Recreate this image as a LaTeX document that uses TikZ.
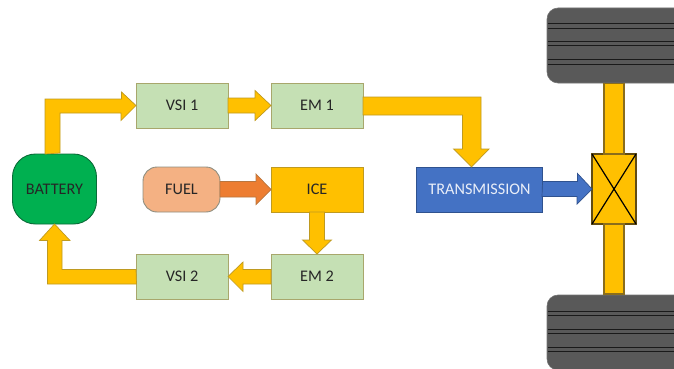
\documentclass[tikz,border=0pt]{standalone}
\usepackage{fontspec}
\setmainfont{Carlito}
\definecolor{boxgreen}{HTML}{C5E0B4}
\definecolor{boxedge}{HTML}{A8A76C}
\definecolor{amber}{HTML}{FFC000}
\definecolor{amberedge}{HTML}{BF9A20}
\definecolor{axleedge}{HTML}{8A6D1C}
\definecolor{batt}{HTML}{00B050}
\definecolor{battedge}{HTML}{0A6B38}
\definecolor{fuelc}{HTML}{F4B183}
\definecolor{fueledge}{HTML}{8E8E80}
\definecolor{orangec}{HTML}{ED7D31}
\definecolor{orangeedge}{HTML}{B9763F}
\definecolor{bluec}{HTML}{4472C4}
\definecolor{blueedge}{HTML}{2F528F}
\definecolor{tyre}{HTML}{595959}
\definecolor{tread}{HTML}{1A1A1A}
\tikzset{
  blk/.style={draw,line width=0.9pt,inner sep=0pt,outer sep=0pt,align=center,font=\fontsize{16.2}{18}\selectfont,text=black!85},
  vsi/.style={blk,fill=boxgreen,draw=boxedge,minimum width=92pt,minimum height=45pt},
  engine/.style={blk,fill=amber,draw=amberedge,minimum width=92pt,minimum height=45pt},
  fuelbox/.style={blk,fill=fuelc,draw=fueledge,rounded corners=14pt,minimum width=77pt,minimum height=45pt},
  battbox/.style={blk,fill=batt,draw=battedge,rounded corners=23pt,minimum width=84pt,minimum height=70pt},
  transbox/.style={blk,fill=bluec,draw=blueedge,text=white!88!bluec,minimum width=126pt,minimum height=45pt},
  gearbox/.style={blk,fill=amber,draw=axleedge!70!black,line width=1.2pt,minimum width=44pt,minimum height=70pt},
  tyrebox/.style={draw=black!55,fill=tyre,line width=0.6pt,rounded corners=11pt,inner sep=0pt,outer sep=0pt,minimum width=160pt,minimum height=75pt},
  arrowy/.style={fill=amber,draw=amberedge,line width=0.7pt,line join=miter},
  arrowo/.style={fill=orangec,draw=orangeedge,line width=0.7pt},
  arrowb/.style={fill=bluec,draw=blueedge,line width=0.7pt},
  axle/.style={fill=amber,draw=axleedge,line width=1.2pt},
  treadline/.style={draw=tread,line width=1pt},
}
\begin{document}
\begin{tikzpicture}[x=1pt,y=-1pt]
\useasboundingbox (0,0) rectangle (674,369);
\clip (0,0) rectangle (674,369);
% wheels
\node[tyrebox] (tyreT) at (627,45.5) {};
\node[tyrebox] (tyreB) at (627,332.5) {};
\foreach \yy in {24,28.7,42,46,60,64.7,311,315,329,333,347.7,351.5}
  \draw[treadline] (547.5,\yy) -- (674,\yy);
% boxes
\node[vsi] (vsia) at (182,105.5) {VSI 1};
\node[vsi] (ema) at (317,105.5) {EM 1};
\node[engine] (ice) at (317,189.5) {ICE};
\node[vsi] (emb) at (317,276.5) {EM 2};
\node[vsi] (vsib) at (182,276.5) {VSI 2};
\node[fuelbox] (fuel) at (181.5,189.5) {FUEL};
\node[battbox] (battery) at (54.5,189) {BATTERY};
\node[transbox] (trans) at (479.5,189.5) {TRANSMISSION};
\node[gearbox] (gear) at (614,189) {};
% axle
\draw[axle] (gear.north) ++(-10,0) rectangle ++(20,-70.5);
\draw[axle] (gear.south) ++(-10,0) rectangle ++(20,70);
% gear cross
\draw[line width=1.2pt,black] (gear.north west) -- (gear.south east) (gear.north east) -- (gear.south west);
% block arrows
\draw[arrowy] (battery.north) ++(-9.5,0) -- ++(0,-55) -- ++(76.5,0) -- ++(0,-7) -- (vsia.west) -- ++(-15,15) -- ++(0,-7.5) -- ++(-61,0) -- ++(0,40) -- cycle;
\draw[arrowy] (vsia.east) ++(0,-7.5) -- ++(27,0) -- ++(0,-7.5) -- (ema.west) -- ++(-16,15) -- ++(0,-7.5) -- ++(-27,0) -- cycle;
\draw[arrowo] (fuel.east) ++(0,-8) -- ++(36,0) -- ++(0,-7.5) -- (ice.west) -- ++(-15,15) -- ++(0,-7.5) -- ++(-36,0) -- cycle;
\draw[arrowy] (ice.south) ++(-7.5,0) -- ++(0,28) -- ++(-7,0) -- (emb.north) -- ++(14.5,-14) -- ++(-7,0) -- ++(0,-28) -- cycle;
\draw[arrowy] (emb.west) ++(0,-7) -- ++(-28,0) -- ++(0,-7.5) -- (vsib.east) -- ++(15,15) -- ++(0,-7.5) -- ++(28,0) -- cycle;
\draw[arrowy] (vsib.west) ++(0,-7) -- ++(-74,0) -- ++(0,-29) -- ++(8,0) -- (battery.south) -- ++(-15,16.5) -- ++(8,0) -- ++(0,43.5) -- ++(89,0) -- cycle;
\draw[arrowy] (ema.east) ++(0,-8.5) -- ++(118,0) -- ++(0,52) -- ++(8,0) -- ([xshift=-8pt]trans.north) -- ++(-18,-18) -- ++(9,0) -- ++(0,-34) -- ++(-99.5,0) -- cycle;
\draw[arrowb] (trans.east) ++(0,-8) -- ++(35,0) -- ++(0,-8) -- (gear.west) -- ++(-15,15) -- ++(0,-7.5) -- ++(-35,0) -- cycle;
\end{tikzpicture}
\end{document}
